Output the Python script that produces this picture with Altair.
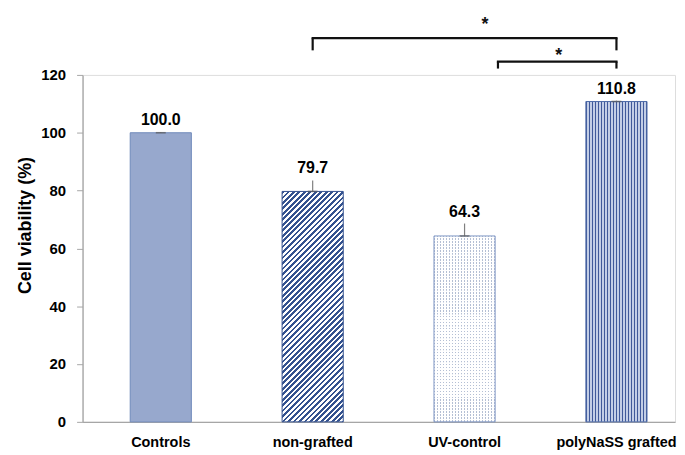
import math
import altair as alt
import pandas as pd

# ---------------- data ----------------
categories = ["Controls", "non-grafted", "UV-control", "polyNaSS grafted"]
values = [100.0, 79.7, 64.3, 110.8]
errors = [0.3, 3.8, 4.3, 0.3]

bracket_from = ["non-grafted", "UV-control"]
bracket_to = ["polyNaSS grafted", "polyNaSS grafted"]
bracket_top = [132.7, 124.6]
bracket_foot = [128.5, 122.2]
bracket_left_shift = [0, 33.6]

star_text = ["*", "*"]
star_anchor = ["UV-control", "polyNaSS grafted"]
star_y = [135.7, 124.8]
star_shift = [20.6, -58]

y_ticks = [0, 20, 40, 60, 80, 100, 120]
y_title = "Cell viability (%)"

# ---------------- layout / style ----------------
W, H = 596, 349
Y_MAX = 120
PI, PO, ALIGN = 0.5975, 0.249, 0.63
FONT = "Liberation Sans"
AXIS_GRAY = "#A6A6A6"

step = W / (len(categories) - PI + 2 * PO)
bw = step * (1 - PI)
px_per_unit = H / Y_MAX

df = pd.DataFrame({"cat": categories, "value": values, "err": errors})
df["top"] = df["value"] + df["err"]

xscale = alt.Scale(domain=categories, paddingInner=PI, paddingOuter=PO, align=ALIGN)
yscale = alt.Scale(domain=[0, Y_MAX], nice=False)

xaxis = alt.Axis(title=None, labelAngle=0, labelFontSize=14.5, labelFontWeight="bold",
                 labelFont=FONT, labelColor="#000000", labelPadding=14, ticks=False,
                 tickSize=0, domainColor=AXIS_GRAY, domainWidth=1.3)
yaxis = alt.Axis(values=y_ticks, title=y_title, titleFontSize=18, titleFontWeight="bold",
                 titleFont=FONT, titleColor="#000000", titleAngle=-90, titleX=-57, titleY=151,
                 titleBaseline="middle", titleAlign="center",
                 labelFontSize=15, labelFontWeight="bold", labelFont=FONT,
                 labelColor="#000000", labelPadding=11, tickSize=6, tickColor=AXIS_GRAY,
                 domainColor=AXIS_GRAY, domainWidth=1.3, grid=False)


def X(field="cat"):
    return alt.X(f"{field}:N", scale=xscale, axis=xaxis, sort=categories)


def Y(field="value"):
    return alt.Y(f"{field}:Q", scale=yscale, axis=yaxis)


def stops_from_intervals(intervals, length):
    stops = []
    for d0, d1, col in sorted(intervals):
        d0, d1 = max(0.0, d0), min(length, d1)
        if d1 - d0 <= 1e-9:
            continue
        stops += [{"offset": round(d0 / length, 5), "color": col},
                  {"offset": round(d1 / length, 5), "color": col}]
    return stops


def stripe_stops(length, p, duty, c_on, c_off, from_end=False):
    """Periodic on/off bands along a gradient of `length` px; phase anchored at start or end."""
    iv = []
    k = 0
    while k * p < length + p:
        if from_end:
            iv.append((length - k * p - duty * p, length - k * p, c_on))
            iv.append((length - (k + 1) * p, length - k * p - duty * p, c_off))
        else:
            iv.append((k * p, k * p + duty * p, c_on))
            iv.append((k * p + duty * p, (k + 1) * p, c_off))
        k += 1
    return stops_from_intervals(iv, length)


def diag_gradient(h_px, period, c_on, c_off):
    r = bw / h_px
    k = (r + 1) / (r * r + 1)
    return alt.LinearGradient(gradient="linear", x1=0, y1=0, x2=k * r, y2=k,
                              stops=stripe_stops(bw + h_px, period, 0.5, c_on, c_off))


def vstripes(period, duty, c_on, c_off):
    return alt.LinearGradient(gradient="linear", x1=0, y1=0, x2=1, y2=0,
                              stops=stripe_stops(bw, period, duty, c_on, c_off))


def bar(cat, fill):
    return (alt.Chart(df).transform_filter(alt.datum.cat == cat)
            .mark_bar(fill=fill, strokeWidth=0)
            .encode(x=X(), y=Y()))


def masked_segments(cat, period, duty, c_off, periods_per_seg=4):
    """Horizontal-stripe mask laid over a bar in short, phase-aligned segments."""
    value = dict(zip(categories, values))[cat]
    seg_units = period * periods_per_seg / px_per_unit
    out = []
    j = 0
    while j * seg_units < value - 1e-9:
        lo, hi = j * seg_units, min(value, (j + 1) * seg_units)
        seg_px = (hi - lo) * px_per_unit
        fill = alt.LinearGradient(
            gradient="linear", x1=0, y1=0, x2=0, y2=1,
            stops=stripe_stops(seg_px, period, duty, "rgba(255,255,255,0)", c_off, from_end=True))
        out.append(
            alt.Chart(df).transform_filter(alt.datum.cat == cat)
            .transform_calculate(lo=f"min(datum.value, {lo})", hi=f"min(datum.value, {hi})")
            .mark_bar(fill=fill, strokeWidth=0)
            .encode(x=X(), y=Y("hi"), y2="lo:Q"))
        j += 1
    return out


POLY_LIGHT = "#C3CEE6"

layers = [
    bar("Controls", "#97A8CD"),
    bar("non-grafted", diag_gradient(values[1] * px_per_unit, 5.5, "#34528F", "#FFFFFF")),
    bar("UV-control", vstripes(3, 0.5, "#B4BFD4", "#FFFFFF")),
    *masked_segments("UV-control", 3, 0.5, "#FFFFFF"),
    bar("polyNaSS grafted", vstripes(3, 0.45, "#40599A", POLY_LIGHT)),
    alt.Chart(df).mark_bar(fillOpacity=0, strokeWidth=1).encode(
        x=X(), y=Y(),
        stroke=alt.Stroke("cat:N", legend=None,
                          scale=alt.Scale(domain=categories,
                                          range=["#6F89BA", "#34528F", "#7F96C4", "#4E6BA8"]))),
    # error bars
    alt.Chart(df).mark_rule(color="#808080", strokeWidth=1.2).encode(x=X(), y=Y(), y2="top:Q"),
    alt.Chart(df).mark_tick(color="#595959", thickness=1.6, size=10).encode(x=X(), y=Y()),
    # value labels
    alt.Chart(df).mark_text(dy=-7, baseline="alphabetic", fontSize=16, fontWeight="bold",
                            font=FONT, color="#000000").encode(
        x=X(), y=Y("top"), text=alt.Text("value:Q", format=".1f")),
]

# significance brackets
for i in range(len(bracket_from)):
    bdf = pd.DataFrame({"from": [bracket_from[i]], "to": [bracket_to[i]],
                        "top": [bracket_top[i]], "foot": [bracket_foot[i]]})
    base = alt.Chart(bdf)
    kw = dict(color="#111111", strokeWidth=2.2)
    layers.append(base.mark_rule(xOffset=bracket_left_shift[i], x2Offset=0, strokeCap="square", **kw)
                  .encode(x=X("from"), x2="to:N", y=Y("top")))
    layers.append(base.mark_rule(xOffset=bracket_left_shift[i], **kw)
                  .encode(x=X("from"), y=Y("foot"), y2="top:Q"))
    layers.append(base.mark_rule(**kw).encode(x=X("to"), y=Y("foot"), y2="top:Q"))

    sdf = pd.DataFrame({"anchor": [star_anchor[i]], "y": [star_y[i]], "t": [star_text[i]]})
    layers.append(alt.Chart(sdf).mark_text(dx=star_shift[i], baseline="alphabetic", fontSize=18,
                                           fontWeight="bold", font=FONT, color="#111111")
                  .encode(x=X("anchor"), y=Y("y"), text="t:N"))

chart = (alt.layer(*layers)
         .properties(width=W, height=H,
                     padding={"left": 9, "top": 6, "right": 0, "bottom": 0})
         .configure_view(strokeWidth=0)
         .configure(background="white"))

chart.save("out.html", embed_options={"renderer": "svg", "actions": False})
